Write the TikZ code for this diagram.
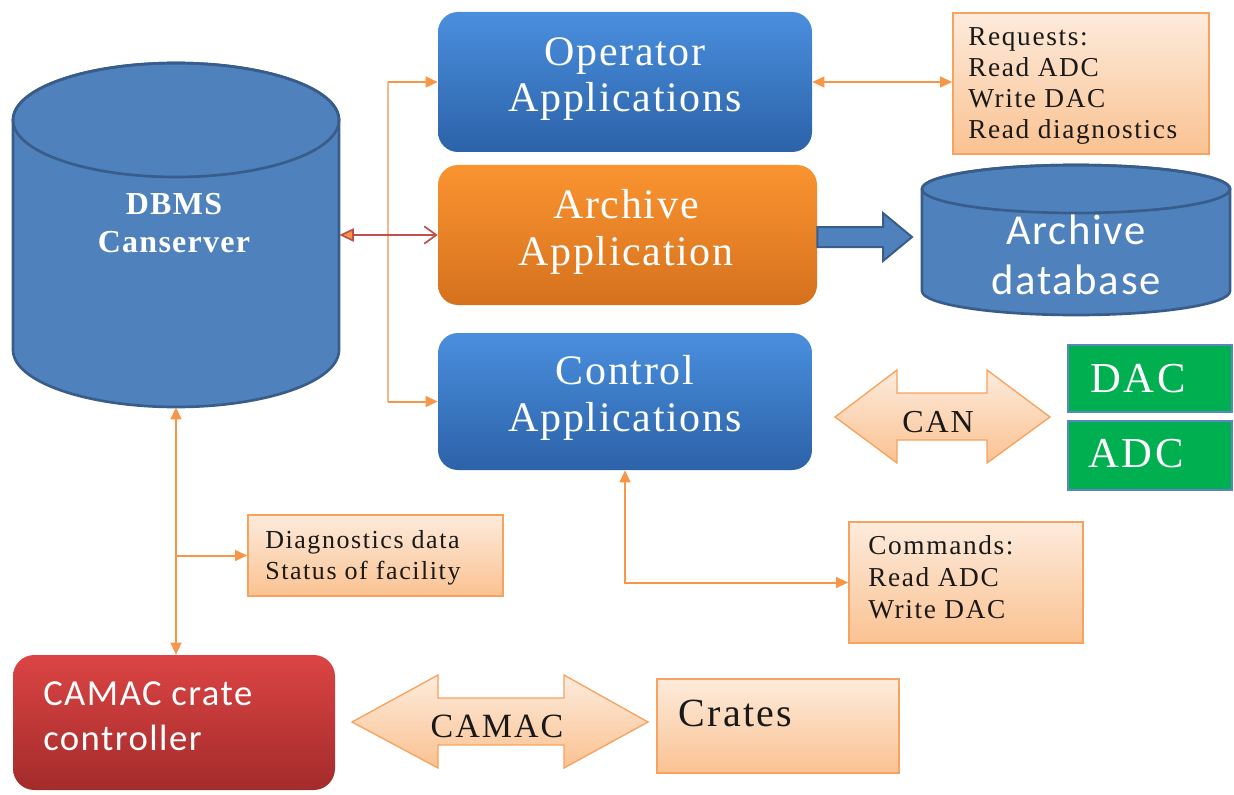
\documentclass[tikz,border=0pt]{standalone}
\usepackage{fontspec}
\setmainfont{Liberation Serif}
\newfontfamily\bigserif[LetterSpace=4]{Liberation Serif}
\newfontfamily\smallserif[LetterSpace=6]{Liberation Serif}
\newfontfamily\widesans[LetterSpace=4]{Carlito}
\usetikzlibrary{arrows.meta,fit}

\definecolor{dbFill}{HTML}{4F81BD}
\definecolor{dbEdge}{HTML}{385D8A}
\definecolor{blueTop}{HTML}{4A8FDE}
\definecolor{blueBot}{HTML}{2C62A8}
\definecolor{orgTop}{HTML}{FA9430}
\definecolor{orgBot}{HTML}{D5711E}
\definecolor{redTop}{HTML}{DC4444}
\definecolor{redBot}{HTML}{A32B2B}
\definecolor{peachTop}{HTML}{FDEBDC}
\definecolor{peachBot}{HTML}{FAC291}
\definecolor{peachEdge}{HTML}{F7A25E}
\definecolor{link}{HTML}{F79646}
\definecolor{linkLight}{HTML}{F5B88C}
\definecolor{redLink}{HTML}{C0504D}
\definecolor{ioGreen}{HTML}{00B050}
\definecolor{ioEdge}{HTML}{5B86C0}

\begin{document}
\begin{tikzpicture}[x=0.75pt,y=-0.75pt,
  appbox/.style={rounded corners=15pt, inner sep=0pt, draw=none},
  bluebox/.style={appbox, top color=blueTop, bottom color=blueBot},
  orangebox/.style={appbox, top color=orgTop, bottom color=orgBot},
  redbox/.style={appbox, rounded corners=16pt, top color=redTop, bottom color=redBot},
  note/.style={draw=peachEdge, line width=1.2pt, top color=peachTop, bottom color=peachBot, inner sep=0pt},
  iobox/.style={draw=ioEdge, line width=1.2pt, fill=ioGreen, inner sep=0pt},
  hull/.style={inner sep=0pt},
  bigtext/.style={inner sep=0pt, text=white, align=center, font=\bigserif\fontsize{31.5}{35}\selectfont},
  dbtext/.style={inner sep=0pt, text=white, align=center, font=\bigserif\bfseries\fontsize{24}{28.5}\selectfont},
  sanstext/.style={inner sep=0pt, text=white, font=\widesans\fontsize{32}{37.5}\selectfont},
  notetext/.style={inner sep=0pt, anchor=west, align=left, text=black!90, font=\smallserif\fontsize{20.5}{23.4}\selectfont},
  iotext/.style={inner sep=0pt, anchor=west, text=white, font=\smallserif\fontsize{32}{34}\selectfont},
  bustext/.style={inner sep=0pt, text=black!90, font=\smallserif\fontsize{24}{26}\selectfont},
  cylbody/.style={fill=dbFill, draw=dbEdge, line width=2pt},
  fatarrow/.style={draw=peachEdge, line width=1pt, top color=peachTop, bottom color=peachBot},
  feed/.style={draw=link, line width=1.5pt},
  busline/.style={draw=linkLight, line width=1.5pt},
  tip/.tip={Triangle[length=9pt,width=8pt]}
]
\useasboundingbox (0,0) rectangle (1234,795);

% ---- DBMS cylinder ----
\path[cylbody] (13,120) -- (13,350)
  arc[start angle=180, end angle=0, x radius=163, y radius=57]
  -- (339,120)
  arc[start angle=0, end angle=-180, x radius=163, y radius=57] -- cycle;
\draw[dbEdge, line width=2pt] (176,120) ellipse[x radius=163, y radius=57];
\node[hull, fit={(13,63) (339,407)}] (dbms) {};
\node[dbtext] (dbmsT) at (174,223) {DBMS\\Canserver};

% ---- archive database cylinder ----
\path[cylbody] (922,189) -- (922,291)
  arc[start angle=180, end angle=0, x radius=154, y radius=24]
  -- (1230,189)
  arc[start angle=0, end angle=-180, x radius=154, y radius=24] -- cycle;
\draw[dbEdge, line width=2pt] (1076,189) ellipse[x radius=154, y radius=24];
\node[hull, fit={(922,165) (1230,315)}] (adb) {};
\node[sanstext, align=center] (adbT) at (1076,255) {Archive\\database};

% ---- application boxes ----
\node[bluebox, fit={(438,12) (812,152)}] (op) {};
\node[bigtext] (opT) at (625,79) {Operator\\Applications};

\node[orangebox, fit={(438,165) (817,305)}] (arch) {};
\node[bigtext] (archT) at (626,232) {Archive\\Application};

\node[bluebox, fit={(438,333) (812,470)}] (ctrl) {};
\node[bigtext] (ctrlT) at (625,398) {Control\\Applications};

% ---- CAMAC crate controller ----
\node[redbox, fit={(13,655) (335,790)}] (camac) {};
\node[sanstext, anchor=west, align=left, font=\widesans\fontsize{27.5}{34}\selectfont] (camacT) at (43,716) {CAMAC crate\\controller};

% ---- note boxes ----
\node[note, fit={(953,13) (1209,154)}] (req) {};
\node[notetext] (reqT) at (968,86) {Requests:\\Read ADC\\Write DAC\\Read diagnostics};

\node[note, fit={(849,522) (1083,643)}] (cmd) {};
\node[notetext, font=\smallserif\fontsize{20.5}{24}\selectfont] (cmdT) at (868,577) {Commands:\\Read ADC\\Write DAC};

\node[note, fit={(248,515) (503,596)}] (diag) {};
\node[notetext, font=\smallserif\fontsize{19.5}{23.4}\selectfont] (diagT) at (265,558) {Diagnostics data\\Status of facility};

\node[note, fit={(657,679) (899,773)}] (crates) {};
\node[notetext, font=\smallserif\fontsize{30}{32}\selectfont] (cratesT) at (678,713) {Crates};

% ---- DAC / ADC modules ----
\node[iobox, fit={(1068,345) (1232,412)}] (dac) {};
\node[iotext] (dacT) at (1090,379) {DAC};
\node[iobox, fit={(1068,421) (1232,490)}] (adc) {};
\node[iotext] (adcT) at (1088,454) {ADC};

% ---- CAN bus double arrow ----
\path[fatarrow] (835,417) -- (897,370) -- (897,393) -- (987,393) -- (987,370)
  -- (1050,417) -- (987,463) -- (987,440) -- (897,440) -- (897,463) -- cycle;
\node[bustext] (canT) at (938,422) {CAN};

% ---- CAMAC bus double arrow ----
\path[fatarrow] (352,722) -- (438,675) -- (438,698) -- (564,698) -- (564,675)
  -- (648,722) -- (564,768) -- (564,745) -- (438,745) -- (438,768) -- cycle;
\node[bustext, font=\smallserif\fontsize{25.5}{28}\selectfont] (camacbusT) at (497,726) {CAMAC};

% ---- archive data flow ----
\path[cylbody, line width=1.5pt] (arch.east |- 0,227) -- (883,227) -- (883,213) -- (912,237)
  -- (883,261) -- (883,247) -- (arch.east |- 0,247) -- cycle;

% ---- connectors ----
\coordinate (bus) at (388,235);
\draw[busline] (bus |- op.west) -- (bus |- ctrl.west);
\draw[feed, -tip] (bus |- op.west) -- (op.west);
\draw[feed, -tip] (bus |- ctrl.west) -- (ctrl.west);
\draw[redLink, line width=1.3pt, {Triangle[length=11pt,width=10pt,fill=link]}-{Straight Barb[length=9pt,width=13pt]}] (dbms.east) -- (arch.west);

\draw[feed, tip-tip] (op.east) -- (op.east -| req.west);
\draw[feed, tip-tip] (ctrl.south) |- (cmd.west);

\draw[feed, tip-tip] (dbms.south) -- (dbms.south |- camac.north);
\draw[feed, -tip] (dbms.south |- diag.west) -- (diag.west);
\end{tikzpicture}
\end{document}
